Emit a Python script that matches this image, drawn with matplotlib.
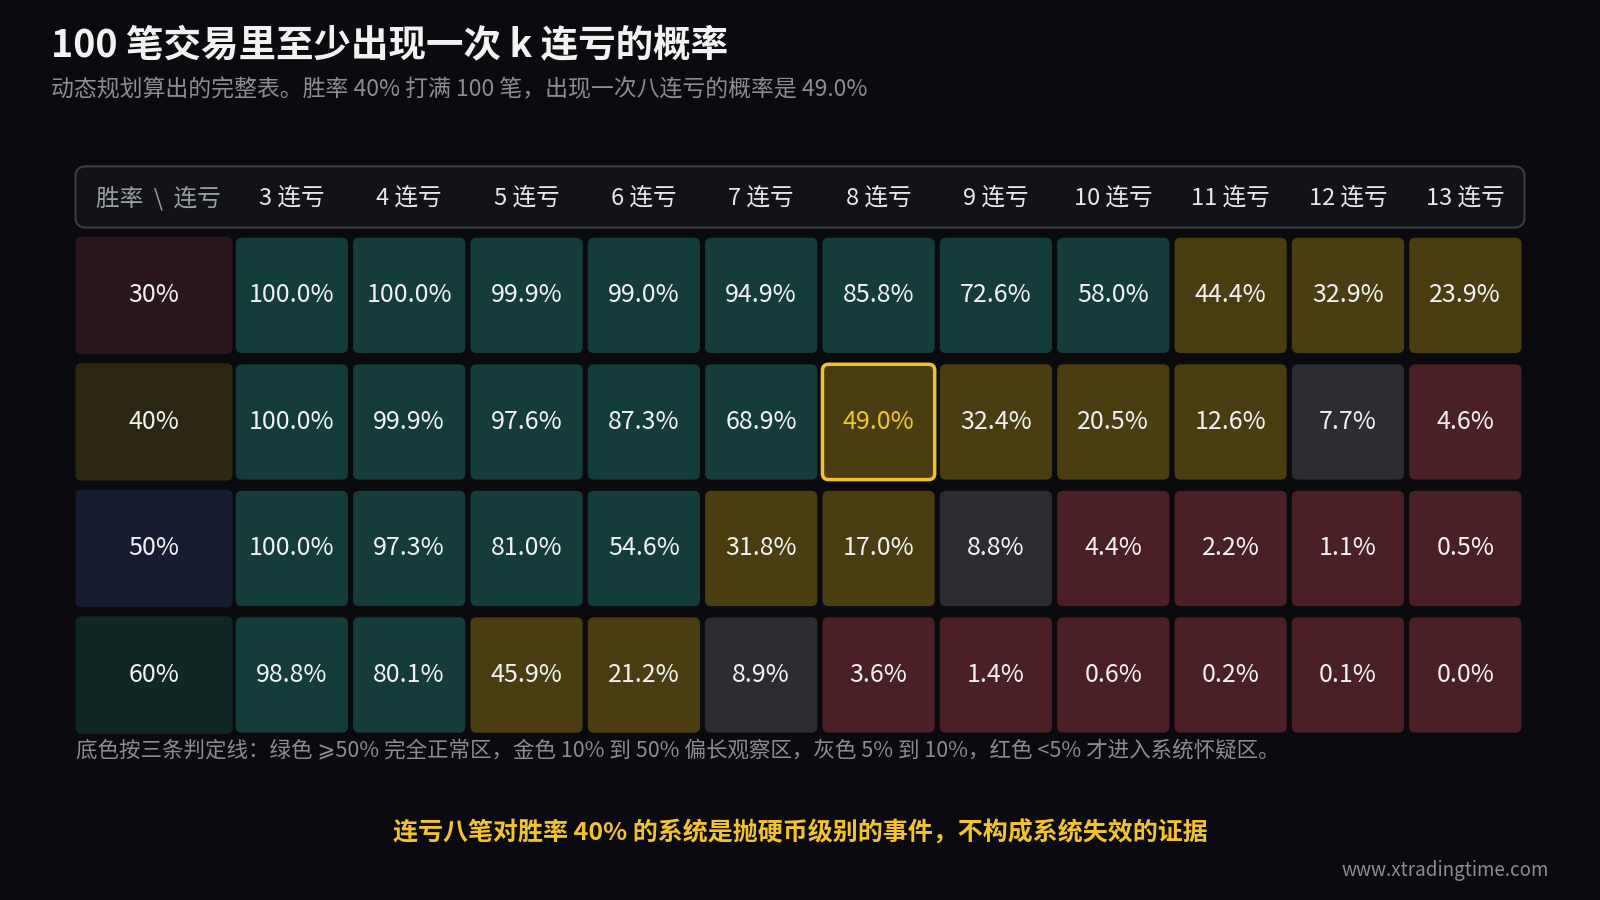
import matplotlib
matplotlib.use('Agg')
import matplotlib.pyplot as plt
from matplotlib.patches import FancyBboxPatch

plt.rcParams['font.family'] = ['Noto Sans CJK SC', 'DejaVu Sans']

# 数据
win_rates = ['30%', '40%', '50%', '60%']
streaks = [3, 4, 5, 6, 7, 8, 9, 10, 11, 12, 13]
probs = [
    [100.0, 100.0, 99.9, 99.0, 94.9, 85.8, 72.6, 58.0, 44.4, 32.9, 23.9],
    [100.0, 99.9, 97.6, 87.3, 68.9, 49.0, 32.4, 20.5, 12.6, 7.7, 4.6],
    [100.0, 97.3, 81.0, 54.6, 31.8, 17.0, 8.8, 4.4, 2.2, 1.1, 0.5],
    [98.8, 80.1, 45.9, 21.2, 8.9, 3.6, 1.4, 0.6, 0.2, 0.1, 0.0],
]
row_colors = ['#2c161d', '#2b2713', '#171c33', '#0f2826']
highlight = (1, 5)

BG = '#0b0b0f'
def cell_color(v):
    if v >= 50: return '#133c3a'
    if v >= 10: return '#4a3d12'
    if v >= 5: return '#2b2d32'
    return '#4a1f25'

fig = plt.figure(figsize=(16, 9), dpi=100, facecolor=BG)
ax = fig.add_axes([0, 0, 1, 1])
ax.set_xlim(0, 1568)
ax.set_ylim(882, 0)
ax.axis('off')
ax.set_facecolor(BG)

ax.text(50, 45, '100 笔交易里至少出现一次 k 连亏的概率', color='#f2f2f2', fontsize=27,
        fontweight='bold', va='center')
ax.text(50, 88, '动态规划算出的完整表。胜率 40% 打满 100 笔，出现一次八连亏的概率是 49.0%',
        color='#8a8d94', fontsize=16.5, va='center')

# 表头
ax.add_patch(FancyBboxPatch((74, 163), 1420, 60, boxstyle='round,pad=0,rounding_size=10',
                            fc='#111318', ec='#3c3f46', lw=1.5))
ax.text(155, 194, '胜率  \\  连亏', color='#9a9da4', fontsize=17, ha='center', va='center')
x0, cw, step = 231, 110, 115
y0, rh, rstep = 232, 115, 124
for j, k in enumerate(streaks):
    ax.text(x0 + j * step + cw / 2, 194, f'{k} 连亏', color='#e8e8e8', fontsize=17,
            ha='center', va='center')

for i, wr in enumerate(win_rates):
    y = y0 + i * rstep
    ax.add_patch(FancyBboxPatch((74, y), 154, rh, boxstyle='round,pad=0,rounding_size=6',
                                fc=row_colors[i], ec='none'))
    ax.text(151, y + rh / 2, wr, color='#f2f2f2', fontsize=18, ha='center', va='center')
    for j, v in enumerate(probs[i]):
        x = x0 + j * step
        hl = (i, j) == highlight
        ax.add_patch(FancyBboxPatch((x, y + 1), cw, rh - 2, boxstyle='round,pad=0,rounding_size=6',
                                    fc=cell_color(v), ec='#f2c230' if hl else 'none',
                                    lw=2.5 if hl else 0))
        ax.text(x + cw / 2, y + rh / 2, f'{v:.1f}%', color='#f2c230' if hl else '#f2f2f2',
                fontsize=18, ha='center', va='center')

ax.text(74, 736, '底色按三条判定线：绿色 ⩾50% 完全正常区，金色 10% 到 50% 偏长观察区，灰色 5% 到 10%，红色 <5% 才进入系统怀疑区。',
        color='#8a8d94', fontsize=15.5, va='center')
ax.text(784, 816, '连亏八笔对胜率 40% 的系统是抛硬币级别的事件，不构成系统失效的证据',
        color='#f2c230', fontsize=18, fontweight='bold', ha='center', va='center')
ax.text(1518, 853, 'www.xtradingtime.com', color='#8a8d94', fontsize=13.5, ha='right', va='center')

fig.savefig('out.png', facecolor=BG)
